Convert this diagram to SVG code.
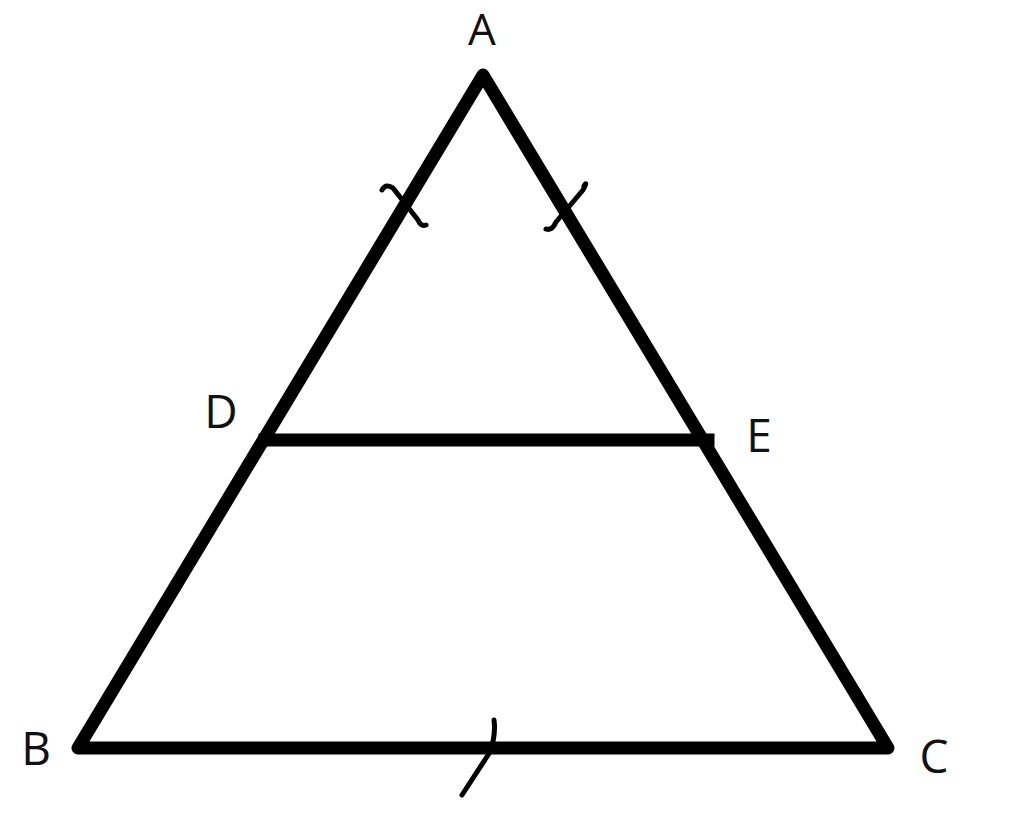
<svg xmlns="http://www.w3.org/2000/svg" width="1024" height="833" viewBox="0 0 1024 833">
<style>
.edge{fill:none;stroke:#000;stroke-width:13;stroke-linejoin:round;stroke-linecap:square}
.tick{fill:none;stroke:#000;stroke-width:5;stroke-linecap:round;stroke-linejoin:round}
.lbl{font-family:"Open Sans","Liberation Sans",sans-serif;font-size:46px;fill:#111;text-anchor:middle}
</style>
<rect width="1024" height="833" fill="#fff"/>
<g id="connectors">
<polygon class="edge" points="483,75 78,748 888,748"/>
<line class="edge" x1="265" y1="440" x2="708" y2="440"/>
<path class="tick" d="M382,190 Q386,183 393,188 L418,220 Q421,227 426,225"/>
<path class="tick" d="M584,186 Q588,180 583,190 L556,222 Q552,231 546,229"/>
<path class="tick" d="M494,720 Q496,735 490,752 L462,795"/>
</g>
<g id="A"><text class="lbl" x="482" y="45" style="font-size:44px">A</text></g>
<g id="B"><text class="lbl" x="36" y="765">B</text></g>
<g id="C"><text class="lbl" x="934" y="773">C</text></g>
<g id="D"><text class="lbl" x="221" y="428">D</text></g>
<g id="E"><text class="lbl" x="759" y="452">E</text></g>
</svg>
